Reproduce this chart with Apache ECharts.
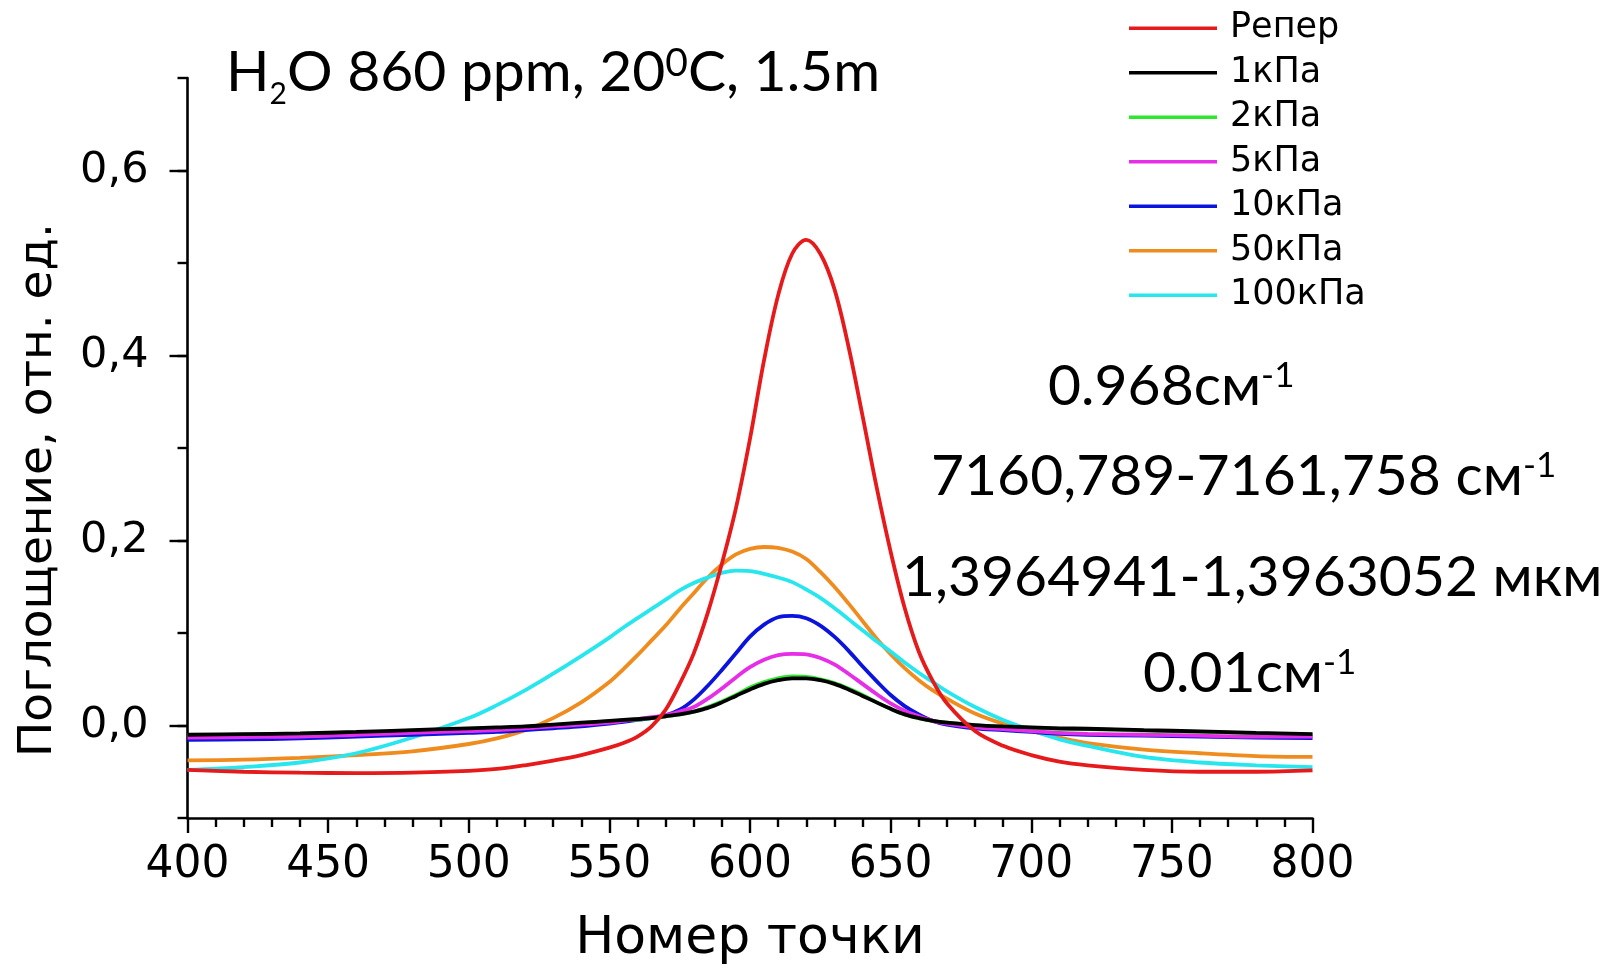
<!DOCTYPE html>
<html>
<head>
<meta charset="utf-8">
<script src="https://cdn.jsdelivr.net/npm/echarts@6/dist/echarts.min.js"></script>
<style>
  html, body { margin: 0; padding: 0; background: #fff; }
  #chart { width: 1604px; height: 968px; }
</style>
</head>
<body>
<div id="chart"></div>
<script>
// ---- data ----
const points = [400,420,440,460,480,500,510,520,530,540,550,555,560,565,570,575,580,585,590,595,600,605,610,615,620,625,630,635,640,645,650,655,660,665,670,680,690,700,710,720,740,760,780,800];

const seriesNames = ['Репер','1кПа','2кПа','5кПа','10кПа','50кПа','100кПа'];

const reper = [-0.048,-0.050,-0.051,-0.0515,-0.051,-0.049,-0.047,-0.043,-0.038,-0.032,-0.024,-0.019,-0.012,-0.001,0.017,0.045,0.078,0.122,0.175,0.235,0.31,0.395,0.465,0.51,0.525,0.51,0.472,0.41,0.335,0.258,0.188,0.127,0.08,0.048,0.024,-0.006,-0.022,-0.032,-0.039,-0.043,-0.048,-0.050,-0.050,-0.0485];

const kPa1 = [-0.010,-0.0093,-0.0085,-0.007,-0.005,-0.003,-0.002,-0.001,0.001,0.003,0.005,0.006,0.007,0.008,0.010,0.012,0.015,0.019,0.025,0.032,0.039,0.045,0.049,0.051,0.051,0.049,0.045,0.039,0.032,0.025,0.018,0.012,0.008,0.005,0.003,0.0005,-0.001,-0.002,-0.003,-0.0035,-0.005,-0.0064,-0.008,-0.0093];

const kPa2 = [-0.0105,-0.0098,-0.009,-0.0075,-0.0055,-0.0035,-0.0025,-0.0015,0.0005,0.0025,0.0045,0.0055,0.0065,0.008,0.010,0.012,0.015,0.020,0.026,0.033,0.041,0.047,0.051,0.053,0.0525,0.050,0.046,0.040,0.033,0.025,0.018,0.012,0.008,0.005,0.003,0.0002,-0.0015,-0.0025,-0.0035,-0.004,-0.0055,-0.007,-0.0085,-0.0098];

const kPa5 = [-0.013,-0.0125,-0.012,-0.010,-0.008,-0.006,-0.005,-0.003,-0.001,0.001,0.003,0.005,0.007,0.009,0.011,0.015,0.020,0.029,0.040,0.052,0.063,0.071,0.076,0.0775,0.077,0.073,0.066,0.056,0.045,0.034,0.024,0.016,0.010,0.005,0.002,-0.002,-0.004,-0.006,-0.008,-0.009,-0.010,-0.011,-0.012,-0.012];

const kPa10 = [-0.0155,-0.015,-0.014,-0.012,-0.010,-0.008,-0.007,-0.005,-0.003,-0.001,0.002,0.004,0.006,0.008,0.011,0.017,0.028,0.043,0.060,0.078,0.096,0.109,0.117,0.1185,0.116,0.108,0.096,0.081,0.064,0.048,0.033,0.021,0.012,0.005,0.001,-0.003,-0.005,-0.007,-0.009,-0.010,-0.011,-0.012,-0.013,-0.0136];

const kPa50 = [-0.0377,-0.037,-0.035,-0.032,-0.028,-0.020,-0.014,-0.005,0.008,0.025,0.047,0.061,0.076,0.092,0.108,0.126,0.143,0.160,0.174,0.185,0.191,0.193,0.192,0.188,0.180,0.166,0.150,0.132,0.113,0.094,0.077,0.062,0.049,0.038,0.029,0.013,0.002,-0.006,-0.013,-0.019,-0.026,-0.030,-0.033,-0.034];

const kPa100 = [-0.048,-0.045,-0.040,-0.030,-0.013,0.008,0.022,0.038,0.056,0.075,0.095,0.106,0.116,0.126,0.136,0.146,0.154,0.160,0.165,0.1675,0.167,0.164,0.160,0.155,0.147,0.138,0.127,0.115,0.103,0.091,0.080,0.068,0.057,0.047,0.037,0.020,0.006,-0.005,-0.015,-0.022,-0.034,-0.040,-0.043,-0.045];

const yLabelValues = [0, 0.2, 0.4, 0.6];

// ---- styles ----
const colors = ['#e6191b','#000000','#2ee62e','#e62ee6','#0a14dc','#f08c1e','#28e6ee'];
const zOrder = [6,5,4,4,3,2,2];
const valuesList = [reper,kPa1,kPa2,kPa5,kPa10,kPa50,kPa100];
const AX = '"DejaVu Sans", sans-serif';
const CAL = 'Lato, "Open Sans", sans-serif';

const series = seriesNames.map((name, k) => ({
  name: name,
  type: 'line',
  data: points.map((x, i) => [x, valuesList[k][i]]),
  showSymbol: false,
  symbol: 'none',
  smooth: 0.35,
  z: zOrder[k],
  lineStyle: { color: colors[k], width: 3.8 },
  itemStyle: { color: colors[k] },
  yAxisIndex: 0
}));

const mainTok = { fontSize: 57, fontFamily: CAL, lineHeight: 57, padding: [0,0,9,0], verticalAlign: 'top', fill: '#000', color: '#000' };
const supTok = { fontSize: 35, fontFamily: CAL, lineHeight: 35, verticalAlign: 'top', fill: '#000', color: '#000' };
const supTitle = { fontSize: 39, fontFamily: CAL, lineHeight: 32, verticalAlign: 'top', fill: '#000', color: '#000' };
const subTok = { fontSize: 30, fontFamily: CAL, lineHeight: 30, padding: [36,0,0,0], verticalAlign: 'top', fill: '#000', color: '#000' };
const rich = { m: mainTok, sup: supTok, supt: supTitle, sub: subTok };

function richText(x, y, text) {
  return {
    type: 'text', x: x, y: y, silent: true,
    style: { text: text, rich: rich, align: 'left', textAlign: 'left', verticalAlign: 'top', textVerticalAlign: 'top', fill: '#000' }
  };
}

const chart = echarts.init(document.getElementById('chart'), null, { renderer: 'canvas' });
chart.setOption({
  animation: false,
  backgroundColor: '#ffffff',
  grid: { left: 187.5, right: 291.5, top: 78, bottom: 150, containLabel: false, outerBoundsMode: 'none' },
  legend: {
    data: seriesNames,
    orient: 'vertical',
    left: 1124, top: 5.7,
    icon: 'rect',
    itemWidth: 88, itemHeight: 3.6, itemGap: 9.5,
    textStyle: { fontFamily: AX, fontSize: 35, lineHeight: 34, color: '#000', padding: [0,0,0,8] },
    selectedMode: false
  },
  xAxis: {
    type: 'value', min: 400, max: 800, interval: 50,
    axisLine: { show: true, onZero: false, lineStyle: { color: '#000', width: 2.6 } },
    axisTick: { show: true, length: 15, lineStyle: { color: '#000', width: 2.4 } },
    minorTick: { show: true, splitNumber: 5, length: 9, lineStyle: { color: '#000', width: 2.4 } },
    splitLine: { show: false }, minorSplitLine: { show: false },
    axisLabel: { fontFamily: AX, fontSize: 44, color: '#000', margin: 26 },
    name: 'Номер точки', nameLocation: 'middle', nameGap: 95,
    nameTextStyle: { fontFamily: AX, fontSize: 52, color: '#000' }
  },
  yAxis: [
    {
      type: 'value', min: -0.1, max: 0.7, interval: 0.1, position: 'left',
      axisLine: { show: true, onZero: false, lineStyle: { color: '#000', width: 2.6 } },
      axisTick: { show: true, length: 10, lineStyle: { color: '#000', width: 2.4 } },
      axisLabel: { show: false },
      splitLine: { show: false }
    },
    {
      type: 'value', min: -0.1, max: 0.7, interval: 0.1, position: 'left', offset: 0,
      axisLine: { show: false },
      axisTick: { show: true, length: 18, customValues: yLabelValues, lineStyle: { color: '#000', width: 2.4 } },
      axisLabel: {
        show: true, customValues: yLabelValues, fontFamily: AX, fontSize: 43, color: '#000', margin: 39,
        formatter: v => v.toFixed(1).replace('.', ',')
      },
      splitLine: { show: false }
    }
  ],
  series: series,
  graphic: [
    {
      type: 'text', x: 39, y: 490, rotation: Math.PI / 2, silent: true,
      style: { text: 'Поглощение, отн. ед.', fontFamily: AX, fontSize: 47, fill: '#000', align: 'center', textAlign: 'center', verticalAlign: 'middle', textVerticalAlign: 'middle' }
    },
    richText(226, 43.8, '{m|H}{sub|2}{m|O 860 ppm, 20}{supt|0}{m|C, 1.5m}'),
    richText(1048, 358.6, '{m|0.968см}{sup|-1}'),
    richText(931, 448.6, '{m|7160,789-7161,758 см}{sup|-1}'),
    richText(902, 549.6, '{m|1,3964941-1,3963052 мкм}'),
    richText(1143, 644.8, '{m|0.01см}{sup|-1}')
  ]
});
</script>
</body>
</html>
